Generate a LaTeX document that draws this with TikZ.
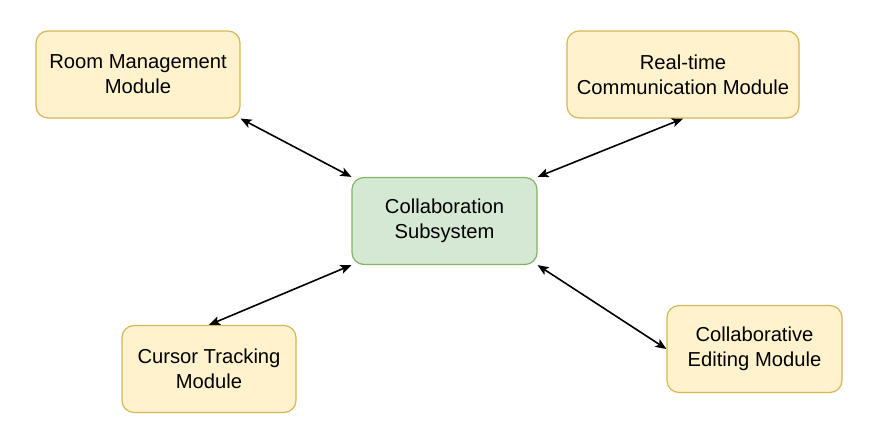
\documentclass[tikz,border=0pt]{standalone}
\usepackage{fontspec}
\setmainfont{Liberation Sans}
\usetikzlibrary{arrows.meta}
\definecolor{modfill}{HTML}{FFF2CC}
\definecolor{moddraw}{HTML}{D6B656}
\definecolor{subfill}{HTML}{D5E8D4}
\definecolor{subdraw}{HTML}{82B366}

\begin{document}
\begin{tikzpicture}[x=1pt,y=-1pt,
    box/.style={rounded corners=12pt,line width=1.2pt,inner sep=0pt,
      align=center,minimum height=87pt,
      font=\fontsize{20.2}{25}\selectfont},
    module/.style={box,fill=modfill,draw=moddraw},
    subsys/.style={box,fill=subfill,draw=subdraw},
    link/.style={{Stealth[length=11pt,width=9pt,inset=2.5pt]}-{Stealth[length=11pt,width=9pt,inset=2.5pt]},
      line width=1.6pt}]
      \useasboundingbox (0,0) rectangle (894,434);
      % centre
      \node[subsys,minimum width=185pt] (core) at (444.5,221) {Collaboration\\Subsystem};
      % modules
      \node[module,minimum width=204pt] (room) at (138,74.5) {Room Management\\Module};
      \node[module,minimum width=232pt] (rtc) at (683,74.5) {Real-time\\Communication Module};
      \node[module,minimum width=174pt] (cursor) at (209,369) {Cursor Tracking\\Module};
      \node[module,minimum width=175pt] (edit) at (754.5,349) {Collaborative\\Editing Module};
      \foreach \a/\b in {room.south east/core.north west,
        rtc.south/core.north east,
        cursor.north/core.south west,
        edit.west/core.south east}{%
          \draw[link](\a)--(\b);
        }
    \end{tikzpicture}
\end{document}
